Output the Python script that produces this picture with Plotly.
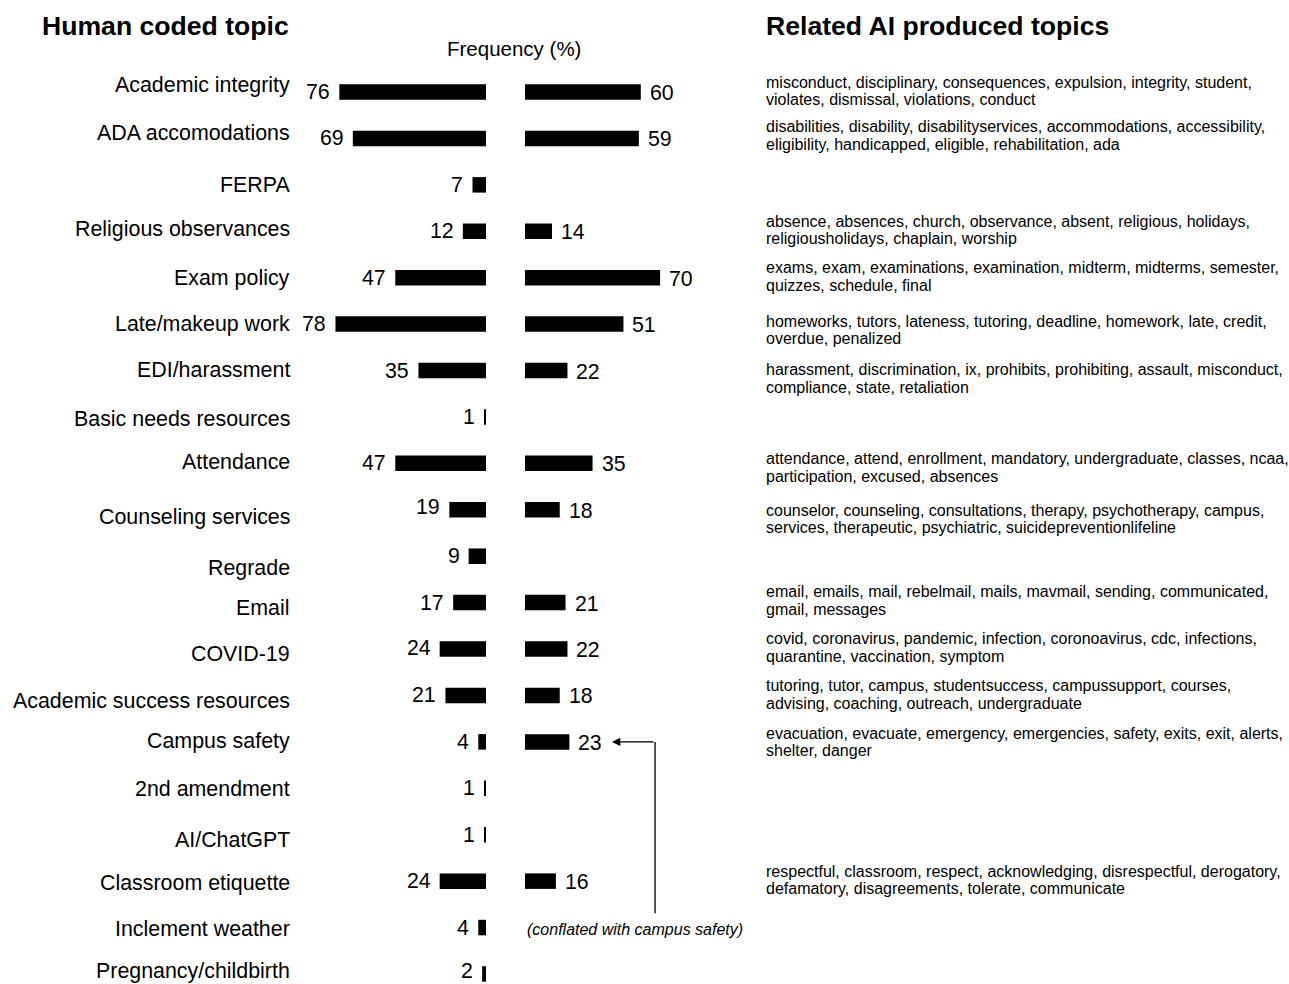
import plotly.graph_objects as go

# ---------------- data ----------------
TOPICS = [
    "Academic integrity", "ADA accomodations", "FERPA", "Religious observances",
    "Exam policy", "Late/makeup work", "EDI/harassment", "Basic needs resources",
    "Attendance", "Counseling services", "Regrade", "Email", "COVID-19",
    "Academic success resources", "Campus safety", "2nd amendment", "AI/ChatGPT",
    "Classroom etiquette", "Inclement weather", "Pregnancy/childbirth",
]
HUMAN = [76, 69, 7, 12, 47, 78, 35, 1, 47, 19, 9, 17, 24, 21, 4, 1, 1, 24, 4, 2]
AI = [60, 59, None, 14, 70, 51, 22, None, 35, 18, None, 21, 22, 18, 23, None, None, 16, None, None]

AI_TERMS = [
    ("misconduct, disciplinary, consequences, expulsion, integrity, student,",
     "violates, dismissal, violations, conduct"),
    ("disabilities, disability, disabilityservices, accommodations, accessibility,",
     "eligibility, handicapped, eligible, rehabilitation, ada"),
    None,
    ("absence, absences, church, observance, absent, religious, holidays,",
     "religiousholidays, chaplain, worship"),
    ("exams, exam, examinations, examination, midterm, midterms, semester,",
     "quizzes, schedule, final"),
    ("homeworks, tutors, lateness, tutoring, deadline, homework, late, credit,",
     "overdue, penalized"),
    ("harassment, discrimination, ix, prohibits, prohibiting, assault, misconduct,",
     "compliance, state, retaliation"),
    None,
    ("attendance, attend, enrollment, mandatory, undergraduate, classes, ncaa,",
     "participation, excused, absences"),
    ("counselor, counseling, consultations, therapy, psychotherapy, campus,",
     "services, therapeutic, psychiatric, suicidepreventionlifeline"),
    None,
    ("email, emails, mail, rebelmail, mails, mavmail, sending, communicated,",
     "gmail, messages"),
    ("covid, coronavirus, pandemic, infection, coronoavirus, cdc, infections,",
     "quarantine, vaccination, symptom"),
    ("tutoring, tutor, campus, studentsuccess, campussupport, courses,",
     "advising, coaching, outreach, undergraduate"),
    ("evacuation, evacuate, emergency, emergencies, safety, exits, exit, alerts,",
     "shelter, danger"),
    None,
    None,
    ("respectful, classroom, respect, acknowledging, disrespectful, derogatory,",
     "defamatory, disagreements, tolerate, communicate"),
    None,
    None,
]

TITLE_LEFT = "Human coded topic"
TITLE_RIGHT = "Related AI produced topics"
AXIS_TITLE = "Frequency (%)"
NOTE_TEXT = "(conflated with campus safety)"
NOTE_ROW = 18        # "Inclement weather" row
ARROW_ROW = 14       # "Campus safety" row

# ---------------- layout constants (pixels) ----------------
W, H = 1289, 984
ROW0, ROWSTEP = 92.0, 46.42
PX_PER_UNIT = 1.93
LEFT_ZERO, RIGHT_ZERO = 486.0, 525.0
LEFT_SPAN, RIGHT_SPAN = 100, 130
BAR_W = 15.5 / ROWSTEP

# small vertical nudges (px, positive = down) seen in the reference
LABEL_DY = [-7, -5, 0, -2, 0, 0, -1, 2, -1, 7, 12, 5, 5, 6, -1, 1, 5, 2, 1, -3]
TERMS_DY = [-1, -3, 0, -1, -1, 6, 8, 0, 4, 9, 0, -2, -1.5, -1, 0, 0, 0, -1, 0, 0]
HVAL_DY = [0, 0, 0, 0, 0, 0, 0, 0, 0, -3, 0, 0, -1, 0, 0, 0, 0, 0, 0, -3]

FONT = "Liberation Sans, Arial, Helvetica, sans-serif"

n = len(TOPICS)
rows = list(range(n))

y_top = -ROW0 / ROWSTEP
y_bot = (H - ROW0) / ROWSTEP

left_dom = [(LEFT_ZERO - LEFT_SPAN * PX_PER_UNIT) / W, LEFT_ZERO / W]
right_dom = [RIGHT_ZERO / W, (RIGHT_ZERO + RIGHT_SPAN * PX_PER_UNIT) / W]

fig = go.Figure()
fig.add_trace(go.Bar(
    x=HUMAN, y=rows, orientation="h", xaxis="x", yaxis="y",
    marker=dict(color="black", line=dict(width=0)), width=BAR_W,
    hoverinfo="skip", showlegend=False,
))
ai_rows = [r for r, v in zip(rows, AI) if v is not None]
ai_vals = [v for v in AI if v is not None]
fig.add_trace(go.Bar(
    x=ai_vals, y=ai_rows, orientation="h", xaxis="x2", yaxis="y",
    marker=dict(color="black", line=dict(width=0)), width=BAR_W,
    hoverinfo="skip", showlegend=False,
))

ann = []
# left topic labels
for r, (t, dy) in enumerate(zip(TOPICS, LABEL_DY)):
    ann.append(dict(xref="paper", yref="y", x=292 / W, y=r, text=t,
                    xanchor="right", yanchor="middle", yshift=-dy, showarrow=False,
                    font=dict(family=FONT, size=21.4, color="black")))
# human values
for r, (v, dy) in enumerate(zip(HUMAN, HVAL_DY)):
    ann.append(dict(xref="x", yref="y", x=v, y=r, text=str(v),
                    xanchor="right", yanchor="middle", xshift=-7, yshift=-dy, showarrow=False,
                    font=dict(family=FONT, size=21.3, color="black")))
# ai values
for r, v in zip(ai_rows, ai_vals):
    ann.append(dict(xref="x2", yref="y", x=v, y=r, text=str(v),
                    xanchor="left", yanchor="middle", xshift=7, yshift=-1, showarrow=False,
                    font=dict(family=FONT, size=21.3, color="black")))
# AI terms text
for r, (terms, dy) in enumerate(zip(AI_TERMS, TERMS_DY)):
    if terms is None:
        continue
    for k, line in enumerate(terms):
        shift = 8.7 if k == 0 else -8.7
        ann.append(dict(xref="paper", yref="y", x=764 / W, y=r, text=line,
                        xanchor="left", yanchor="middle", yshift=shift - dy,
                        showarrow=False,
                        font=dict(family=FONT, size=16, color="black")))
# headers
ann.append(dict(xref="paper", yref="paper", x=40 / W, y=1 - 26 / H, text="<b>%s</b>" % TITLE_LEFT,
                xanchor="left", yanchor="middle", showarrow=False,
                font=dict(family=FONT, size=26.6, color="black")))
ann.append(dict(xref="paper", yref="paper", x=764 / W, y=1 - 26 / H, text="<b>%s</b>" % TITLE_RIGHT,
                xanchor="left", yanchor="middle", showarrow=False,
                font=dict(family=FONT, size=26.6, color="black")))
ann.append(dict(xref="paper", yref="paper", x=514 / W, y=1 - 48 / H, text=AXIS_TITLE,
                xanchor="center", yanchor="middle", showarrow=False,
                font=dict(family=FONT, size=20.5, color="black")))
# note
ann.append(dict(xref="x2", yref="y", x=0, y=NOTE_ROW, text="<i>%s</i>" % NOTE_TEXT,
                xanchor="left", yanchor="middle", yshift=-1.5, showarrow=False,
                font=dict(family=FONT, size=16, color="black")))

# arrow from note to campus-safety AI bar label
ARROW_TIP_X = 45.0
ARROW_ELBOW_X = 67.4
ARROW_END_ROW = 17.69
ann.append(dict(xref="x2", yref="y", x=ARROW_TIP_X, y=ARROW_ROW,
                axref="x2", ayref="y", ax=ARROW_ELBOW_X, ay=ARROW_ROW,
                text="", showarrow=True, arrowhead=2, arrowsize=1.3,
                arrowwidth=1.3, arrowcolor="black", standoff=0, startstandoff=0))

shapes = [dict(type="line", xref="x2", yref="y",
               x0=ARROW_ELBOW_X, x1=ARROW_ELBOW_X, y0=ARROW_ROW, y1=ARROW_END_ROW,
               line=dict(color="black", width=1.3))]

fig.update_layout(
    width=W, height=H, autosize=False,
    margin=dict(l=0, r=0, t=0, b=0, pad=0),
    paper_bgcolor="white", plot_bgcolor="white",
    barmode="overlay",
    xaxis=dict(domain=left_dom, range=[LEFT_SPAN, 0], visible=False, fixedrange=True),
    xaxis2=dict(domain=right_dom, range=[0, RIGHT_SPAN], visible=False, anchor="y", fixedrange=True),
    yaxis=dict(domain=[0, 1], range=[y_bot, y_top], visible=False, fixedrange=True),
    annotations=ann,
    shapes=shapes,
    font=dict(family=FONT, color="black"),
)

fig.write_html("out.html", config={"displayModeBar": False},
               post_script="document.body.style.margin='0';document.body.style.padding='0';")
